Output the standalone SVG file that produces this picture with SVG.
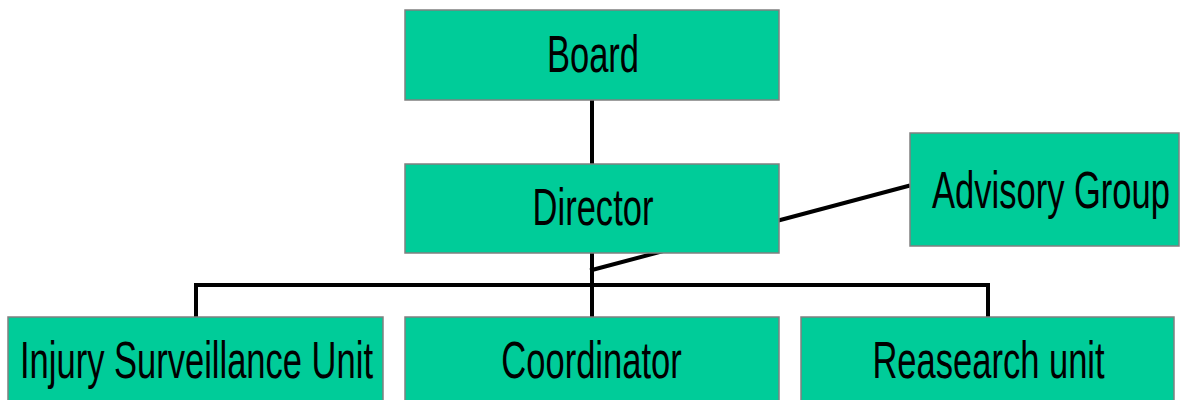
<svg xmlns="http://www.w3.org/2000/svg" width="1180" height="400" viewBox="0 0 1180 400">
<style>
.box{fill:#00CC99;stroke:#808080;stroke-width:1.5}
.lbl{font-family:"Liberation Sans",Arial,sans-serif;font-size:52px;fill:#000;text-anchor:middle}
.con{stroke:#000;stroke-width:4;fill:none;stroke-linecap:square}
</style>
<rect width="1180" height="400" fill="#fff"/>
<g id="connectors">
<line class="con" x1="592" y1="100" x2="592" y2="163"/>
<line class="con" x1="592" y1="253" x2="592" y2="316"/>
<polyline class="con" points="196,316 196,285 988,285 988,316"/>
<line class="con" x1="908" y1="186" x2="592" y2="270"/>
</g>
<g id="board">
<rect class="box" x="405" y="10" width="374" height="90"/>
<text class="lbl" transform="translate(593 72) scale(0.664 1)">Board</text>
</g>
<g id="director">
<rect class="box" x="405" y="164" width="374" height="89"/>
<text class="lbl" transform="translate(593 225) scale(0.664 1)">Director</text>
</g>
<g id="advisory">
<rect class="box" x="910" y="133" width="269" height="113"/>
<text class="lbl" transform="translate(1051 208) scale(0.664 1)">Advisory Group</text>
</g>
<g id="injury">
<rect class="box" x="8" y="317" width="375" height="90"/>
<text class="lbl" transform="translate(196.5 378) scale(0.664 1)">Injury Surveillance Unit</text>
</g>
<g id="coordinator">
<rect class="box" x="405" y="317" width="374" height="90"/>
<text class="lbl" transform="translate(591.5 378) scale(0.664 1)">Coordinator</text>
</g>
<g id="research">
<rect class="box" x="801" y="317" width="373" height="90"/>
<text class="lbl" transform="translate(988.5 378) scale(0.664 1)">Reasearch unit</text>
</g>
</svg>
